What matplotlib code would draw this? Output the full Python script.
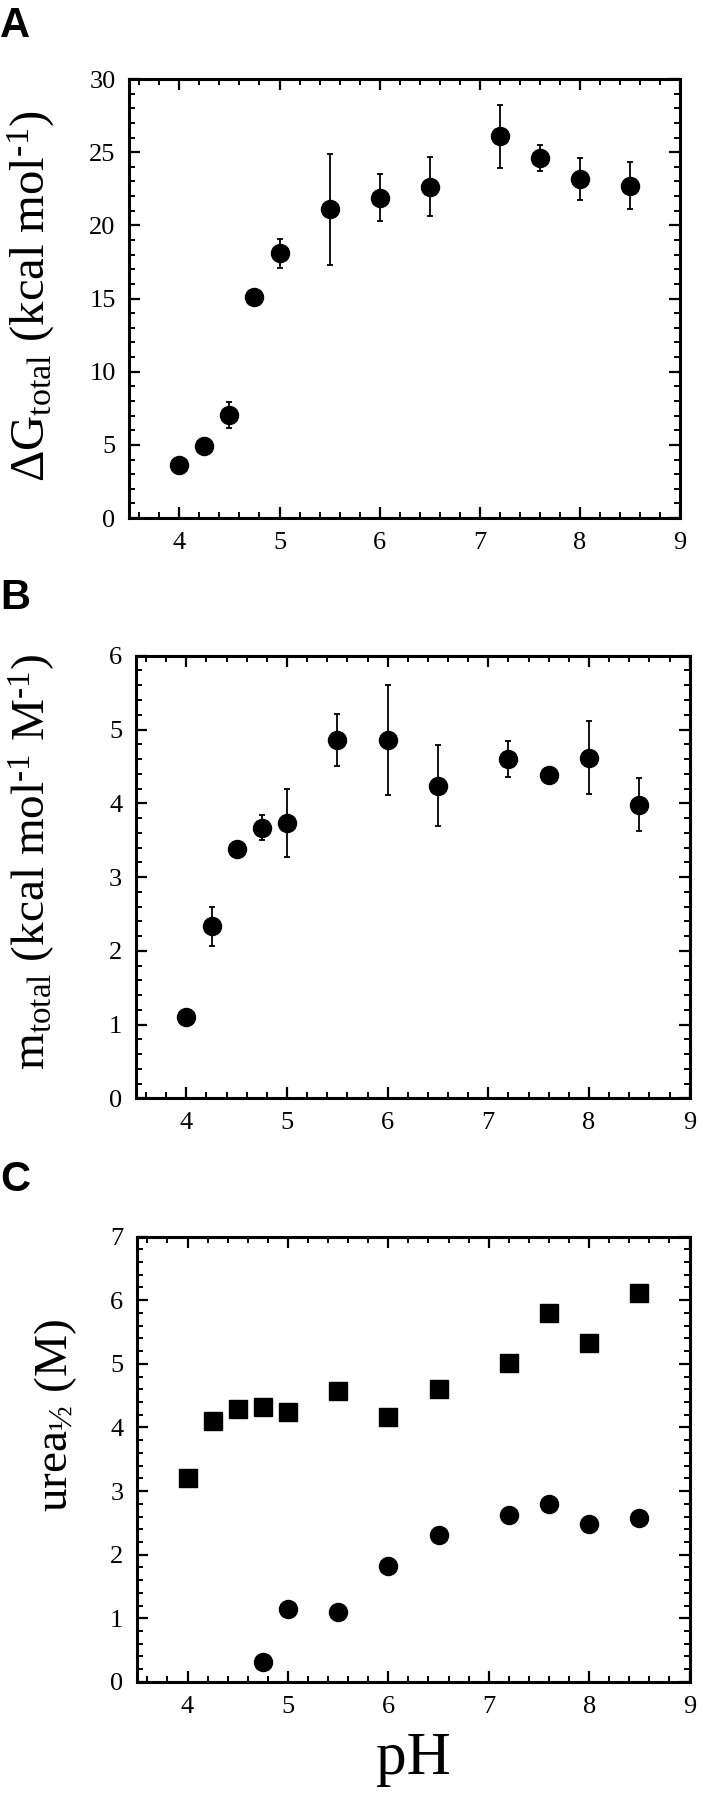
import numpy as np
import matplotlib.pyplot as plt
from matplotlib.ticker import MultipleLocator

plt.rcParams['font.family'] = ['Liberation Serif', 'DejaVu Serif']
plt.rcParams['mathtext.fontset'] = 'custom'
plt.rcParams['mathtext.rm'] = 'Liberation Serif'
plt.rcParams['mathtext.it'] = 'Liberation Serif:italic'

# Panel A: total free energy vs pH
ph_a = [4.0, 4.25, 4.5, 4.75, 5.0, 5.5, 6.0, 6.5, 7.2, 7.6, 8.0, 8.5]
dg_total = [3.6, 4.95, 7.05, 15.1, 18.1, 21.1, 21.9, 22.65, 26.1, 24.6, 23.15, 22.7]
dg_err = [0.25, 0.4, 0.9, 0.4, 1.0, 3.8, 1.6, 2.0, 2.15, 0.9, 1.45, 1.6]

# Panel B: total m-value vs pH
ph_b = [4.0, 4.25, 4.5, 4.75, 5.0, 5.5, 6.0, 6.5, 7.2, 7.6, 8.0, 8.5]
m_total = [1.10, 2.33, 3.38, 3.67, 3.73, 4.86, 4.86, 4.24, 4.60, 4.38, 4.62, 3.98]
m_err = [0.03, 0.26, 0.04, 0.17, 0.46, 0.35, 0.75, 0.55, 0.25, 0.06, 0.5, 0.36]

# Panel C: urea midpoints vs pH (two transitions)
ph_sq = [4.0, 4.25, 4.5, 4.75, 5.0, 5.5, 6.0, 6.5, 7.2, 7.6, 8.0, 8.5]
urea_sq = [3.21, 4.10, 4.29, 4.32, 4.25, 4.58, 4.16, 4.60, 5.01, 5.80, 5.33, 6.11]
ph_ci = [4.75, 5.0, 5.5, 6.0, 6.5, 7.2, 7.6, 8.0, 8.5]
urea_ci = [0.31, 1.14, 1.10, 1.82, 2.31, 2.62, 2.79, 2.48, 2.57]

W, H = 703, 1800
fig = plt.figure(figsize=(W / 100, H / 100), dpi=100)
ax_a = fig.add_axes([0.1842, 0.7122, 0.7824, 0.2439])
ax_b = fig.add_axes([0.1935, 0.3898, 0.7875, 0.2459])
ax_c = fig.add_axes([0.1953, 0.0656, 0.7856, 0.2474])


def style_axis(ax, ymax, ymajor, yminor):
    ax.set_xlim(3.5, 9)
    ax.set_ylim(0, ymax)
    ax.xaxis.set_major_locator(MultipleLocator(1))
    ax.xaxis.set_minor_locator(MultipleLocator(0.2))
    ax.yaxis.set_major_locator(MultipleLocator(ymajor))
    ax.yaxis.set_minor_locator(MultipleLocator(yminor))
    ax.tick_params(which='both', direction='in', top=True, right=True,
                   labelsize=19, pad=10)
    ax.tick_params(which='major', length=8, width=1.6)
    ax.tick_params(which='minor', length=4.5, width=1.4)
    for sp in ax.spines.values():
        sp.set_linewidth(2.2)


def ylabel_at(text, x_right, y_mid, size):
    # rotated label, right edge / vertical centre given in pixels
    fig.text(x_right / W, 1 - y_mid / H, text, rotation=90,
             ha='right', va='center', fontsize=size)


style_axis(ax_a, 30, 5, 1)
ax_a.errorbar(ph_a, dg_total, yerr=dg_err, fmt='o', color='black',
              markersize=13, elinewidth=1.3, capsize=2.5, capthick=1.3)
ylabel_at(r'$\Delta$G$_{\rm total}$ (kcal mol$^{\text{-1}}$)', 57, 296, 35)

style_axis(ax_b, 6, 1, 0.2)
ax_b.errorbar(ph_b, m_total, yerr=m_err, fmt='o', color='black',
              markersize=13, elinewidth=1.3, capsize=2.5, capthick=1.3)
ylabel_at(r'm$_{\rm total}$ (kcal mol$^{\text{-1}}$ M$^{\text{-1}}$)', 57, 862, 34)

style_axis(ax_c, 7, 1, 0.2)
ax_c.plot(ph_sq, urea_sq, 's', color='black', markersize=13.5)
ax_c.plot(ph_ci, urea_ci, 'o', color='black', markersize=13)
ylabel_at(r'urea$_{\rm ½}$ (M)', 79, 1416, 34)
ax_c.set_xlabel('pH', fontsize=44, labelpad=10)

for letter, ytop in [('A', 1 - 6 / H), ('B', 1 - 578 / H), ('C', 1 - 1160 / H)]:
    fig.text(0.0, ytop, letter, fontsize=30, fontweight='bold',
             family='Liberation Sans', ha='left', va='top')

fig.savefig('out.png', dpi=100)
